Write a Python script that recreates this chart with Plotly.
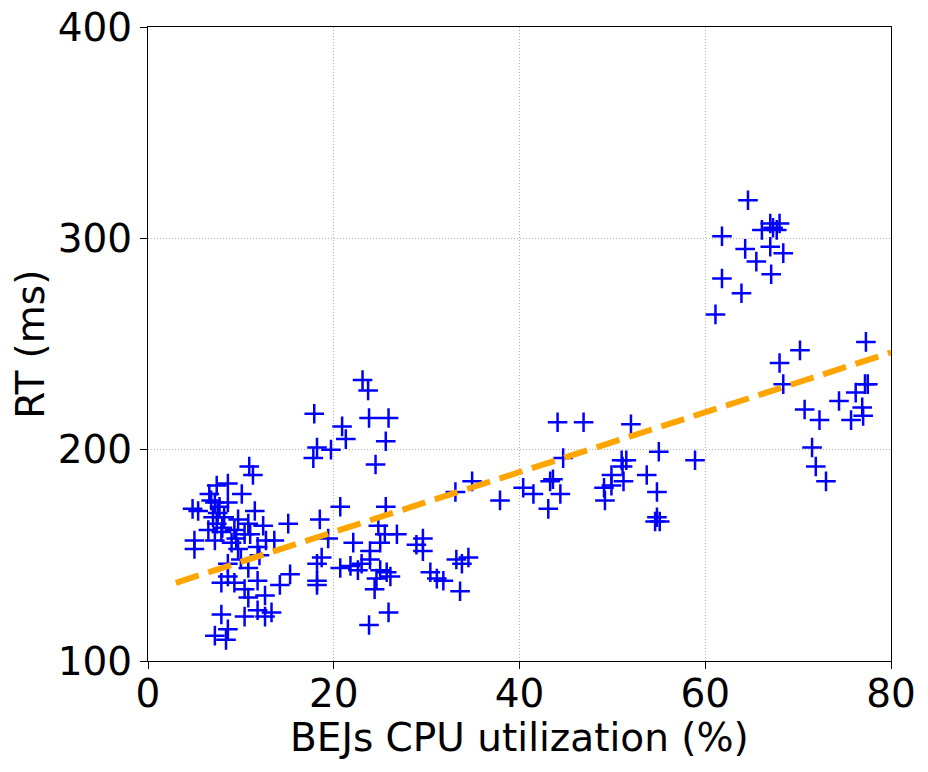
import plotly.graph_objects as go

# BEJs CPU utilization (%) vs response time (ms)
cpu_low = [10.9, 11.3, 7.4, 8.6, 6.6, 10.1, 4.8, 5.4, 7.2, 7.7, 8.6, 11.5, 7.0, 7.4, 9.7,
           10.8, 12.4, 15.1, 6.5, 7.9, 9.3, 10.4, 5.0, 5.0, 7.2, 9.0, 9.7, 11.8, 12.7, 13.6,
           8.6, 10.8, 8.6, 7.9, 9.3, 10.4, 11.8, 14.2, 15.3, 10.8, 12.6, 11.8, 12.6, 13.3,
           10.4, 7.9, 8.6, 7.2, 8.4, 7.5, 8.2, 6.8, 8.0, 9.5, 11.0, 12.0, 10.0]
rt_low = [192, 188, 183, 184, 179, 179, 172, 171, 175, 173, 175, 171, 168, 165, 167,
          165, 164, 165, 162, 161, 162, 160, 157, 153, 157, 156, 153, 154, 157, 157,
          146, 144, 140, 137, 137, 134, 138, 136, 141, 130, 131, 124, 121, 123,
          121, 122, 115, 112, 110, 170, 168, 176, 163, 158, 160, 150, 148]

cpu_mid = [23.1, 23.7, 17.9, 23.8, 25.9, 20.9, 21.3, 25.6, 18.2, 19.7, 17.8, 24.5, 34.9,
           33.1, 20.7, 25.6, 18.5, 24.8, 25.5, 26.8, 19.4, 22.1, 28.9, 29.6, 29.6, 25.0,
           23.9, 18.7, 18.2, 20.7, 21.8, 23.0, 22.6, 23.9, 25.0, 25.7, 24.6, 26.1, 30.4,
           31.1, 31.8, 33.2, 33.8, 34.5, 33.6, 18.2, 18.2, 24.4, 25.9, 23.8]
rt_mid = [233, 228, 217, 215, 215, 211, 205, 204, 201, 200, 196, 193, 185,
          180, 173, 173, 167, 164, 160, 160, 158, 156, 155, 158, 152, 156,
          152, 149, 146, 144, 145, 146, 143, 148, 143, 142, 139, 140, 142,
          139, 138, 148, 146, 149, 133, 138, 136, 134, 123, 117]

cpu_high = [44.1, 46.9, 52.0, 55.0, 44.7, 51.0, 51.5, 58.9, 51.1, 49.9, 53.7, 43.3, 43.6,
            40.4, 41.5, 44.4, 49.1, 51.2, 49.9, 54.8, 37.9, 49.2, 43.1, 54.8, 55.1, 54.6]
rt_high = [213, 213, 212, 199, 196, 195, 195, 195, 192, 188, 188, 185, 186,
           182, 179, 179, 182, 185, 183, 180, 176, 176, 172, 168, 166, 166]

cpu_top = [64.6, 61.8, 67.0, 68.0, 66.1, 67.3, 67.7, 64.3, 67.0, 68.4, 65.5, 61.8, 67.1,
           63.9, 61.1, 77.3, 70.2, 68.0, 68.4, 77.2, 77.5, 76.2, 74.4, 70.7, 72.3, 75.7,
           76.9, 77.0, 71.5, 71.9, 73.0]
rt_top = [318, 301, 307, 307, 304, 305, 304, 295, 296, 293, 289, 281, 283,
          274, 264, 251, 247, 241, 231, 231, 231, 227, 223, 219, 214, 214,
          220, 216, 201, 192, 185]

cpu = cpu_low + cpu_mid + cpu_high + cpu_top
rt = rt_low + rt_mid + rt_high + rt_top

# fitted trend line endpoints
fit_x = [3, 80]
fit_y = [137, 246]

FONT = "DejaVu Sans"
title_font = dict(family=FONT, size=39, color="black")

fig = go.Figure()
fig.add_trace(go.Scatter(
    x=cpu, y=rt, mode="markers",
    marker=dict(symbol="cross-thin", size=14, line=dict(color="#0000ff", width=2.5)),
    showlegend=False,
))
fig.add_trace(go.Scatter(
    x=fit_x, y=fit_y, mode="lines",
    line=dict(color="#ffa500", width=6, dash="24px,10px"),
    showlegend=False,
))

axis_style = dict(
    showline=True, mirror=True, linecolor="black", linewidth=1.2,
    ticks="outside", ticklen=7, tickwidth=1.2, tickcolor="black",
    showgrid=True, gridcolor="#b0b0b0", gridwidth=1, griddash="1px,2px",
    zeroline=False, automargin=False,
    tickfont=dict(family=FONT, size=39, color="black"),
)

fig.update_xaxes(range=[0, 80], tickvals=[0, 20, 40, 60, 80], ticklabelstandoff=-9, **axis_style)
fig.update_yaxes(range=[100, 400], tickvals=[100, 200, 300, 400], **axis_style)

# axis titles placed as annotations for exact positioning
fig.add_annotation(text="BEJs CPU utilization (%)", xref="paper", yref="paper",
                   x=0.5, y=-0.121, xanchor="center", yanchor="middle",
                   showarrow=False, font=title_font)
fig.add_annotation(text="RT (ms)", xref="paper", yref="paper",
                   x=-0.159, y=0.5, xanchor="center", yanchor="middle",
                   textangle=-90, showarrow=False, font=title_font)

fig.update_layout(
    width=928, height=772,
    plot_bgcolor="white", paper_bgcolor="white",
    margin=dict(l=148, r=37, t=27, b=111),
    font=dict(family=FONT),
)

fig.write_html("out.html", config={"displayModeBar": False},
               post_script="document.body.style.margin='0';")
